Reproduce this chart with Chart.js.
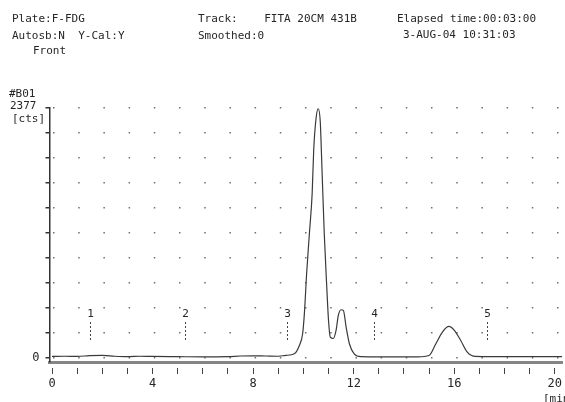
<!DOCTYPE html>
<html><head><meta charset="utf-8">
<script src="https://cdn.jsdelivr.net/npm/chart.js@4"></script>
<style>html,body{margin:0;padding:0;background:#fff}#wrap{width:565px;height:402px;position:relative}</style>
</head><body><div id="wrap"><canvas id="c"></canvas></div>
<script>
// --- data ---
const times  = [0,0.5,1,1.5,2,2.5,3,3.5,4,5,6,7,7.5,8,8.5,9,9.3,9.64,9.84,9.97,10.04,10.13,10.24,10.35,10.41,10.51,10.59,10.67,10.74,10.83,10.93,11.0,11.07,11.19,11.3,11.39,11.5,11.59,11.7,11.83,12.02,12.3,13,14,14.54,15.0,15.27,15.53,15.79,15.99,16.26,16.52,16.85,17.5,18.5,19.5,20.3];
const counts = [10,12,10,18,20,12,8,12,10,8,6,8,14,16,14,12,20,35,114,226,420,802,1184,1566,1975,2291,2370,2253,1795,1184,671,353,194,181,258,401,455,449,290,131,35,8,6,5,6,19,131,242,296,264,162,51,10,8,8,8,8];
const peakLabels = ['1','2','3','4','5'];
const peakTimes  = [1.5,5.3,9.35,12.8,17.3];
const yMaxCounts = 2377;
const yTickCount = 10;
const xTickValues = [0,1,2,3,4,5,6,7,8,9,10,11,12,13,14,15,16,17,18,19,20];
const xLabelEvery = 4;
const headerTexts = [
  ['Plate:F-FDG', 12, 19], ['Autosb:N  Y-Cal:Y', 12, 36], ['Front', 33, 51],
  ['Track:    FITA 20CM 431B', 198, 19], ['Smoothed:0', 198, 36],
  ['Elapsed time:00:03:00', 397, 19], ['3-AUG-04 10:31:03', 403, 35],
  ['#B01', 9, 94], ['2377', 10, 106], ['[cts]', 12, 119], ['[min]', 543, 399]
];

const points = times.map((t,i)=>({x:t,y:counts[i]}));
const yTicks = Array.from({length:yTickCount+1},(_,i)=>+(yMaxCounts*i/yTickCount).toFixed(1));

const textPlugin = {
  id:'texts',
  afterDraw(chart){
    const ctx = chart.ctx, xs = chart.scales.x;
    ctx.save();
    ctx.fillStyle = '#262626';
    ctx.font = '11px "DejaVu Sans Mono", monospace';
    ctx.textBaseline = 'middle';
    ctx.textAlign = 'left';
    headerTexts.forEach(([s,x,y])=>ctx.fillText(s,x,y));
    // peak markers
    ctx.textAlign = 'center';
    ctx.strokeStyle = '#444';
    ctx.lineWidth = 1;
    peakLabels.forEach((lab,i)=>{
      const px = Math.round(xs.getPixelForValue(peakTimes[i]))+0.5;
      ctx.fillText(lab, px, 314);
      ctx.setLineDash([2,2]);
      ctx.beginPath(); ctx.moveTo(px,322); ctx.lineTo(px,340); ctx.stroke();
    });
    ctx.restore();
  }
};

new Chart(document.getElementById('c'), {
  type:'line',
  data:{datasets:[{data:points, borderColor:'#3a3a3a', borderWidth:1.2, pointRadius:0, tension:0, cubicInterpolationMode:'monotone', fill:false}]},
  options:{
    responsive:true, maintainAspectRatio:false, animation:false,
    layout:{padding:{left:0,right:1.4,top:108,bottom:0}},
    plugins:{legend:{display:false}, tooltip:{enabled:false}},
    scales:{
      x:{type:'linear', min:-0.1, max:20.3,
        afterBuildTicks:s=>{s.ticks = xTickValues.map(v=>({value:v}));},
        afterFit:s=>{s.height = 40;},
        border:{display:true, color:'#858585', width:3},
        grid:{drawOnChartArea:false, drawTicks:true, tickLength:12, tickColor:'#444', tickWidth:1, tickBorderDash:[8,4], tickBorderDashOffset:8},
        ticks:{autoSkip:false, maxRotation:0, padding:3, color:'#262626', font:{family:'"DejaVu Sans Mono", monospace', size:12},
          callback:v=> (v % xLabelEvery === 0 ? String(v) : '')}
      },
      y:{type:'linear', min:-43, max:yMaxCounts,
        afterBuildTicks:s=>{s.ticks = yTicks.map(v=>({value:v}));},
        afterFit:s=>{s.width = 49.5;},
        border:{display:true, color:'#333', width:1.5, dash:[1.5,23.7], dashOffset:22.7},
        grid:{drawOnChartArea:true, color:'#707070', lineWidth:1.5, drawTicks:true, tickLength:4, tickColor:'#333', tickBorderDash:[]},
        ticks:{autoSkip:false, padding:6, color:'#262626', font:{family:'"DejaVu Sans Mono", monospace', size:12},
          callback:v=> (v === 0 ? '0' : '')}
      }
    }
  },
  plugins:[textPlugin]
});
</script></body></html>
